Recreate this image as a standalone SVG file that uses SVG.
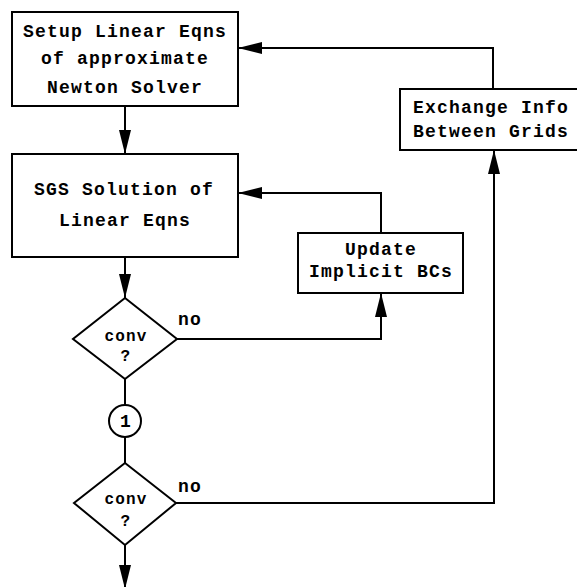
<svg xmlns="http://www.w3.org/2000/svg" width="577" height="587" viewBox="0 0 577 587">
<defs>
<marker id="ah" viewBox="0 0 24 12" refX="24" refY="6" markerWidth="24" markerHeight="12" markerUnits="userSpaceOnUse" orient="auto">
<path d="M0,0 L24,6 L0,12 z" fill="#000"/>
</marker>
<style>
.box{fill:#fff;stroke:#000;stroke-width:2}
.t{font-family:"Liberation Mono","Courier New",monospace;font-weight:bold;font-size:18px;letter-spacing:1.2px;text-anchor:middle;fill:#000}
.tl{font-family:"Liberation Mono","Courier New",monospace;font-weight:bold;font-size:18px;letter-spacing:1.2px;fill:#000}
.ts{font-size:16px}
.c{fill:none;stroke:#000;stroke-width:2}
.a{marker-end:url(#ah)}
</style>
</defs>
<rect width="577" height="587" fill="#fff"/>
<g id="connectors">
<path class="c a" d="M125,106 V154"/>
<path class="c a" d="M125,257 V298"/>
<path class="c a" d="M177,339 H381 V293"/>
<path class="c a" d="M381,233 V193 H238"/>
<path class="c" d="M125,379 V405"/>
<path class="c" d="M125,437 V463"/>
<path class="c a" d="M176,503 H494 V150"/>
<path class="c a" d="M493,89 V48 H238"/>
<path class="c a" d="M125,545 V589"/>
<text class="tl" x="178" y="325">no</text>
<text class="tl" x="178" y="492">no</text>
</g>
<g id="setup">
<rect class="box" x="12" y="12" width="226" height="94"/>
<text class="t" x="125" y="37">Setup Linear Eqns</text>
<text class="t" x="125" y="64">of approximate</text>
<text class="t" x="125" y="93">Newton Solver</text>
</g>
<g id="sgs">
<rect class="box" x="12" y="154" width="226" height="103"/>
<text class="t" x="124" y="195">SGS Solution of</text>
<text class="t" x="125" y="226">Linear Eqns</text>
</g>
<g id="update">
<rect class="box" x="298" y="233" width="165" height="60"/>
<text class="t" x="381" y="255">Update</text>
<text class="t" x="381" y="277">Implicit BCs</text>
</g>
<g id="exchange">
<rect class="box" x="400" y="89" width="190" height="61"/>
<text class="tl" x="413" y="113">Exchange Info</text>
<text class="tl" x="413" y="137">Between Grids</text>
</g>
<g id="conv1">
<polygon class="box" points="125,298 177,339 125,379 73,339"/>
<text class="t ts" x="126" y="341">conv</text>
<text class="t ts" x="126" y="361">?</text>
</g>
<g id="node1">
<circle class="box" cx="125" cy="421" r="16"/>
<text class="t" x="126" y="427">1</text>
</g>
<g id="conv2">
<polygon class="box" points="125,463 176,503 125,545 74,503"/>
<text class="t ts" x="126" y="504">conv</text>
<text class="t ts" x="126" y="526">?</text>
</g>
</svg>
